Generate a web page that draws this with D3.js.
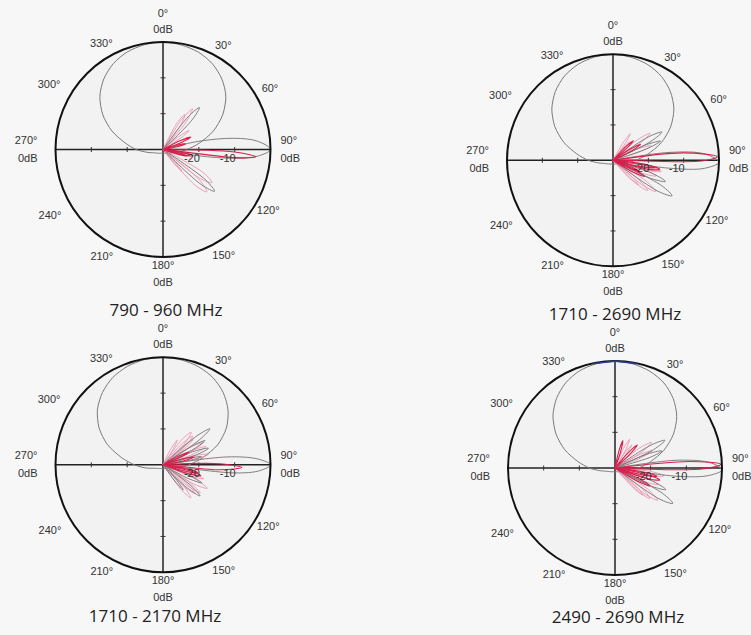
<!DOCTYPE html>
<html>
<head>
<meta charset="utf-8">
<script src="https://cdn.jsdelivr.net/npm/d3@7"></script>
<style>
  body { margin: 0; background: #f7f7f7; }
  svg { display: block; }
  .lbl { font-family: "Liberation Sans", Arial, sans-serif; font-size: 11px; fill: #333; }
  .title { font-family: "Open Sans", sans-serif; font-size: 17px; fill: #222; }
</style>
</head>
<body>
<div class="canvas"></div>
<script>
// ---- data ----
const titles = ["790 - 960 MHz", "1710 - 2690 MHz", "1710 - 2170 MHz", "2490 - 2690 MHz"];
const angleTicks = [0, 30, 60, 90, 120, 150, 180, 210, 240, 270, 300, 330];
const angleLabels = ["0°", "30°", "60°", "90°", "120°", "150°", "180°", "210°", "240°", "270°", "300°", "330°"];
const dbTicks = [-20, -10];
const dbTickLabels = ["-20", "-10"];
const dbRange = [-30, 0];

// horizontal pattern (gray circle), dB every 10 deg
const hDeg = [0,10,20,30,40,50,60,70,80,90,100,110,120,130,140,150,160,170,
              180,190,200,210,220,230,240,250,260,270,280,290,300,310,320,330,340,350];
const hPattern1 = [0,-0.4,-1.1,-2.4,-4.4,-7.1,-10.8,-15.1,-19.7,-23.3,-25.8,-27.3,-28,-28.4,-28.6,-28.8,-28.9,-28.9,
                   -28.9,-28.9,-28.9,-28.8,-28.6,-28.4,-28,-27.3,-25.5,-22.5,-19.2,-14.8,-10.6,-7,-4.3,-2.3,-1,-0.3];
const hPattern2 = [0,-0.4,-1.2,-2.6,-4.7,-7.5,-11.2,-15.5,-20,-23.5,-26,-27.4,-28,-28.4,-28.6,-28.8,-28.9,-28.9,
                   -28.9,-28.9,-28.9,-28.8,-28.6,-28.4,-28,-27.4,-25.8,-23,-19.6,-15.2,-11,-7.4,-4.6,-2.5,-1.1,-0.3];
const hPattern3 = [0,-0.3,-0.9,-2,-3.8,-6.3,-9.6,-13.8,-18.8,-22.8,-25.5,-27.2,-28,-28.4,-28.6,-28.8,-28.9,-28.9,
                   -28.9,-28.9,-28.9,-28.8,-28.6,-28.4,-28,-27.2,-25,-22,-18.2,-13.5,-9.4,-6.1,-3.7,-1.9,-0.8,-0.2];
const hPattern4 = [0,-0.4,-1.2,-2.5,-4.6,-7.4,-11.1,-15.4,-19.9,-23.4,-26,-27.4,-28,-28.4,-28.6,-28.8,-28.9,-28.9,
                   -28.9,-28.9,-28.9,-28.8,-28.6,-28.4,-28,-27.4,-25.7,-22.8,-19.4,-15,-10.9,-7.3,-4.5,-2.4,-1,-0.3];

// vertical patterns: [deg, dB]
const vGray1 = [[0,-30],[34,-30],[37.5,-18.5],[41,-14.5],[44.5,-18.5],[48,-30],
  [70,-30],[77,-20],[81,-10],[85,-3.5],[90,0],[94,-3.5],[97,-10],[100,-20],[105,-30],
  [122,-30],[125.5,-15.5],[129,-11.5],[132.5,-15.5],[136,-30],[360,-30]];
const vRed1 = [
  [[0,-30],[60,-30],[63,-24.5],[66,-21.5],[69,-24.5],[72,-30],[89,-30],[92,-10],[94.5,-4],[96.5,-10],[100,-30],
   [102,-26],[105,-23],[108,-26],[111,-30],[360,-30]],
  [[0,-30],[70,-30],[73,-26],[76,-23.5],[79,-26],[82,-30],[96,-30],[99,-24],[102,-21.5],[105,-24],[108,-30],[360,-30]]
];
const vPink1 = [
  [[0,-30],[28,-30],[32,-20],[36,-16],[40,-20],[44,-30],[48,-30],[51,-24],[54,-21],[57,-24],[60,-30],
   [116,-30],[120,-17],[124,-13.5],[128,-17],[132,-30],[136,-25],[139,-22],[142,-25],[145,-30],[360,-30]],
  [[0,-30],[24,-30],[28,-21.5],[32,-18.5],[36,-21.5],[40,-30],[126,-30],[130,-16.5],[134,-13],[138,-16.5],[142,-30],[360,-30]]
];

const vGray2 = [[0,-30],[53,-30],[56.5,-18],[60,-14],[63.5,-18],[67,-30],[62,-30],[65,-19.5],[68,-15.5],[71,-19.5],[74,-30],
  [77,-30],[82,-14],[86,-4],[91,0],[95,-4],[98,-14],[102,-30],
  [105,-30],[108.5,-18],[112,-14],[115.5,-18],[119,-30],[114,-30],[117.5,-14.5],[121,-10.5],[124.5,-14.5],[128,-30],[360,-30]];
const vRed2 = [
  [[0,-30],[40,-30],[43,-25],[46,-22],[49,-25],[52,-30],[80,-30],[84,-10],[88,-0.5],[90.5,-5],[93,-30],
   [97,-22],[100,-18],[103,-22],[106,-30],[110,-25],[112,-22],[115,-25],[118,-30],[360,-30]],
  [[0,-30],[54,-30],[57,-24],[60,-21],[63,-24],[66,-30],[94,-30],[97.5,-20],[101,-16.5],[104.5,-20],[108,-30],
   [113.5,-23],[117,-20],[120.5,-23],[124,-30],[360,-30]]
];
const vPink2 = [
  [[0,-30],[27,-30],[30,-24],[33,-21],[36,-24],[39,-30],[46,-30],[50,-21],[54,-17],[58,-21],[62,-30],
   [118,-30],[122,-19],[126,-15],[130,-19],[134,-30],[360,-30]],
  [[0,-30],[36,-30],[39,-26],[42,-23],[45,-26],[48,-30],[102,-30],[106,-21],[110,-17],[114,-21],[118,-30],
   [128,-30],[131,-23],[134,-20],[137,-23],[140,-30],[360,-30]],
  [[0,-30],[62,-30],[65.5,-22],[69,-18.5],[72.5,-22],[76,-30],[96,-30],[99.5,-20],[103,-16],[106.5,-20],[110,-30],
   [124,-30],[127.5,-20],[131,-17],[134.5,-20],[138,-30],[360,-30]]
];

const vGray3 = [[0,-30],[46,-30],[49.5,-17.5],[52.5,-13.5],[55.5,-17.5],[59,-30],[54,-30],[57,-20.5],[60,-16.5],[63,-20.5],[66,-30],
  [63,-30],[66.5,-20.5],[70,-16.5],[73.5,-20.5],[77,-30],[73,-30],[75.5,-22.5],[78,-19],[80.5,-22.5],[83,-30],
  [79,-30],[83,-12],[86.5,-3.5],[90,0],[93.5,-3],[96.5,-10],[100,-30],
  [108,-30],[111.5,-22],[115,-18],[118.5,-22],[122,-30],[123,-30],[126.5,-20.5],[130,-16.5],[133.5,-20.5],[137,-30],
  [136,-30],[138.5,-24],[141,-21],[143.5,-24],[146,-30],[360,-30]];
const vRed3 = [
  [[0,-30],[58,-30],[61,-25],[64,-22],[67,-25],[70,-30],[85,-30],[89,-14],[92,-8],[95,-14],[98,-30],
   [100,-23],[103,-20],[106,-23],[109,-30],[360,-30]],
  [[0,-30],[70,-30],[73,-24],[76,-21],[79,-24],[82,-30],[100,-30],[103,-22],[106,-19],[109,-22],[112,-30],[360,-30]]
];
const vPink3 = [
  [[0,-30],[33,-30],[37,-21],[41,-18],[45,-21],[49,-30],[60,-30],[63.5,-21],[67,-17],[70.5,-21],[74,-30],
   [110,-30],[114,-20],[118,-16],[122,-20],[126,-30],[133,-30],[136.5,-21],[140,-18],[143.5,-21],[147,-30],[360,-30]],
  [[0,-30],[23,-30],[26.5,-25],[30,-22],[33.5,-25],[37,-30],[44,-30],[47,-22.5],[50,-19],[53,-22.5],[56,-30],
   [57.5,-21],[61,-17],[64.5,-21],[68,-30],[70,-30],[73.5,-21],[77,-17],[80.5,-21],[84,-30],
   [102,-30],[105.5,-22],[109,-18],[112.5,-22],[116,-30],[120,-30],[123.5,-21],[127,-17],[130.5,-21],[134,-30],[360,-30]],
  [[0,-30],[38,-30],[42,-22],[46,-18.5],[50,-22],[54,-30],[125,-30],[128.5,-21],[132,-18],[135.5,-21],[139,-30],[360,-30]]
];

const vGray4 = [[0,-30],[54,-30],[57.5,-18],[61,-14],[64.5,-18],[68,-30],[64,-30],[67,-19.5],[70,-16],[73,-19.5],[76,-30],
  [79,-30],[83,-12],[87,-3],[91,0],[94.5,-3.5],[97.5,-12],[101,-30],
  [106,-30],[109.5,-18.5],[113,-14.5],[116.5,-18.5],[120,-30],[115,-30],[118,-15],[121.5,-11],[125,-15],[128,-30],[360,-30]];
const vRed4 = [
  [[0,-30],[10,-30],[13,-25],[16,-22],[19,-25],[22,-30],[81,-30],[85,-9],[88,-0.3],[90.5,-5],[93,-30],
   [95,-30],[98,-22],[101,-18],[104,-22],[107,-30],[360,-30]],
  [[0,-30],[38,-30],[41,-24],[44,-21],[47,-24],[50,-30],[99,-30],[102,-20],[105,-17],[108,-20],[111,-30],
   [114,-22],[117,-19],[120,-22],[123,-30],[360,-30]]
];
const vPink4 = [
  [[0,-30],[20,-30],[23.5,-24],[27,-21],[30.5,-24],[34,-30],[47,-30],[51,-21],[55,-17.5],[59,-21],[63,-30],
   [119,-30],[123,-19],[127,-15],[131,-19],[135,-30],[360,-30]],
  [[0,-30],[30,-30],[33,-25],[36,-22],[39,-25],[42,-30],[103,-30],[107,-21],[111,-17],[115,-21],[119,-30],
   [128,-30],[131,-22],[134,-19],[137,-22],[140,-30],[360,-30]],
  [[0,-30],[58,-30],[61.5,-22],[65,-18.5],[68.5,-22],[72,-30],[92,-30],[95.5,-20],[99,-16],[102.5,-20],[106,-30],
   [124,-30],[127.5,-20],[131,-17],[134.5,-20],[138,-30],[360,-30]]
];
const vBlue4 = [[-12,-0.1],[0,0],[12,-0.1]];

const hPatterns = [hPattern1, hPattern2, hPattern3, hPattern4];
const vGrays = [vGray1, vGray2, vGray3, vGray4];
const vReds = [vRed1, vRed2, vRed3, vRed4];
const vPinks = [vPink1, vPink2, vPink3, vPink4];

// ---- layout ----
const dims = {width: 751, height: 635};
const panels = [
  {cx: 163, cy: 149.5, r: 107.5, tx: 166, ty: 316},
  {cx: 613, cy: 160.3, r: 106, tx: 615, ty: 320},
  {cx: 163, cy: 464.8, r: 107.5, tx: 155, ty: 622},
  {cx: 615, cy: 468, r: 107, tx: 618, ty: 623}
];
const diagGap = {30: 13, 60: 16, 120: 14, 150: 14, 210: 15, 240: 23, 300: 24, 330: 16};

const svg = d3.select('.canvas')
  .append('svg')
    .attr('width', dims.width)
    .attr('height', dims.height);

const rad = d => d * Math.PI / 180;

panels.forEach((p, i) => {
  const g = svg.append('g').attr('transform', `translate(${p.cx},${p.cy})`);
  const rScale = d3.scaleLinear().domain(dbRange).range([0, p.r]).clamp(true);

  const lobe = d3.lineRadial()
    .angle(d => rad(d[0]))
    .radius(d => rScale(d[1]))
    .curve(d3.curveCatmullRom.alpha(0.5));

  const hLine = d3.lineRadial()
    .angle((d, j) => rad(hDeg[j]))
    .radius(d => rScale(d))
    .curve(d3.curveCardinalClosed.tension(0.2));

  g.append('circle').attr('r', p.r).attr('fill', '#f2f2f2');

  // axes
  g.append('line').attr('x1', -p.r).attr('x2', p.r).attr('stroke', '#222').attr('stroke-width', 1.5);
  g.append('line').attr('y1', -p.r).attr('y2', p.r).attr('stroke', '#222').attr('stroke-width', 1.5);
  dbTicks.forEach(t => {
    const d = rScale(t);
    [d, -d].forEach(x =>
      g.append('line').attr('x1', x).attr('x2', x).attr('y1', -2.5).attr('y2', 2.5)
        .attr('stroke', '#333').attr('stroke-width', 1));
    [d, -d].forEach(y =>
      g.append('line').attr('y1', y).attr('y2', y).attr('x1', -2.5).attr('x2', 2.5)
        .attr('stroke', '#333').attr('stroke-width', 1));
  });

  // horizontal pattern
  g.append('path').attr('d', hLine(hPatterns[i]))
    .attr('fill', 'none').attr('stroke', '#7a7a7a').attr('stroke-width', 1);

  // vertical pattern traces
  vPinks[i].forEach(tr => g.append('path').attr('d', lobe(tr))
    .attr('fill', 'none').attr('stroke', '#ec8fab').attr('stroke-width', 1).attr('opacity', 0.85));
  g.append('path').attr('d', lobe(vGrays[i]))
    .attr('fill', 'none').attr('stroke', '#808080').attr('stroke-width', 1);
  vReds[i].forEach(tr => g.append('path').attr('d', lobe(tr))
    .attr('fill', 'none').attr('stroke', '#d91f4b').attr('stroke-width', 1.1));

  g.append('circle').attr('r', p.r).attr('fill', 'none').attr('stroke', '#111').attr('stroke-width', 2);
  if (i === 3) {
    g.append('path').attr('d', d3.lineRadial().angle(d => rad(d[0])).radius(d => rScale(d[1]))(vBlue4))
      .attr('fill', 'none').attr('stroke', '#2a3a9a').attr('stroke-width', 1.6);
  }

  // dB labels on 90 axis
  dbTicks.forEach((t, k) => {
    g.append('text').attr('class', 'lbl')
      .attr('x', rScale(t) + 1).attr('y', 8)
      .attr('text-anchor', 'end').attr('dominant-baseline', 'central')
      .text(dbTickLabels[k]);
  });

  // angle labels
  angleTicks.forEach((a, k) => {
    const txt = (x, y, s, anchor) => g.append('text').attr('class', 'lbl')
      .attr('x', x).attr('y', y).attr('text-anchor', anchor)
      .attr('dominant-baseline', 'central').text(s);
    if (a === 0) {
      txt(0, -p.r - 29, angleLabels[k], 'middle');
      txt(0, -p.r - 13, '0dB', 'middle');
    } else if (a === 180) {
      txt(0, p.r + 8, angleLabels[k], 'middle');
      txt(0, p.r + 25, '0dB', 'middle');
    } else if (a === 90) {
      txt(p.r + 10, -10, angleLabels[k], 'start');
      txt(p.r + 10, 8, '0dB', 'start');
    } else if (a === 270) {
      txt(-p.r - 18, -10, angleLabels[k], 'end');
      txt(-p.r - 18, 8, '0dB', 'end');
    } else {
      const rr = p.r + diagGap[a];
      txt(rr * Math.sin(rad(a)), -rr * Math.cos(rad(a)), angleLabels[k], 'middle');
    }
  });

  svg.append('text').attr('class', 'title')
    .attr('x', p.tx).attr('y', p.ty).attr('text-anchor', 'middle')
    .text(titles[i]);
});
</script>
</body>
</html>
